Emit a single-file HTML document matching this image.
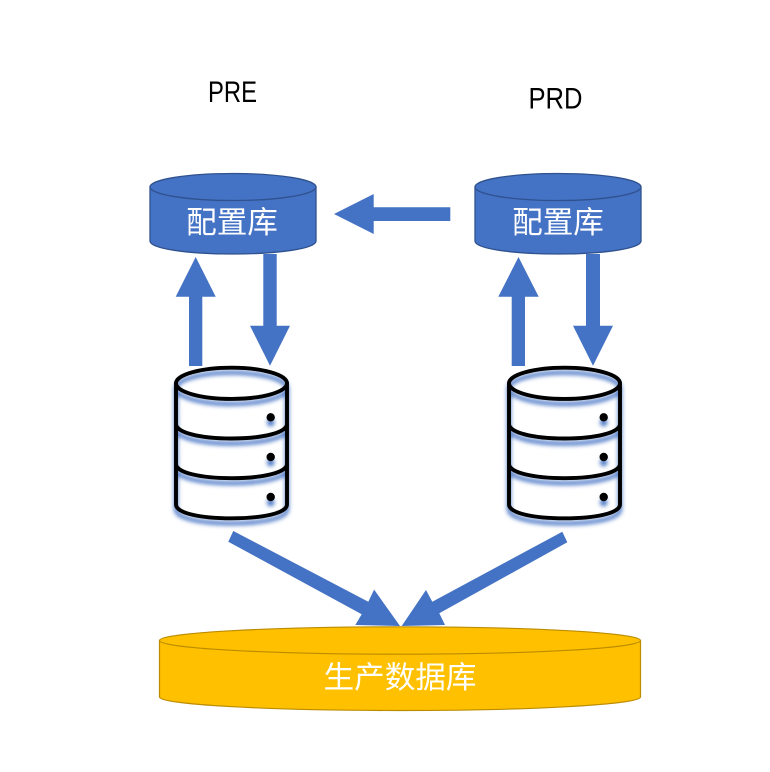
<!DOCTYPE html>
<html lang="zh">
<head>
<meta charset="utf-8">
<title>PRE / PRD</title>
<style>
html,body{margin:0;padding:0;background:#fff}
body{width:770px;height:772px;overflow:hidden}
svg{display:block;filter:blur(.35px)}
.lat{font-family:"Liberation Sans","Noto Sans CJK SC",sans-serif;font-size:30px;fill:#000}
.cjk{font-family:"Liberation Sans","Noto Sans CJK SC",sans-serif;font-size:30.6px;fill:#fff}
</style>
</head>
<body>
<svg width="770" height="772" viewBox="0 0 770 772" xmlns="http://www.w3.org/2000/svg">
<defs>
  <filter id="glow" x="-20%" y="-20%" width="140%" height="140%">
    <feGaussianBlur stdDeviation="2.2"/>
  </filter>
  <g id="icon-lines" fill="none" stroke-width="3.9" stroke-linecap="round">
    <ellipse cx="231.5" cy="383.3" rx="55.5" ry="15.6"/>
    <path d="M176 383.3V504.5C176 513 200 518.3 231.5 518.3S287 513 287 504.5V383.3"/>
    <path d="M176 424C176 432.5 200 438.5 231.5 438.5S287 432.5 287 424"/>
    <path d="M176 464C176 472.5 200 478.2 231.5 478.2S287 472.5 287 464"/>
  </g>
  <g id="icon">
    <g stroke="#4472C4" fill="#4472C4" filter="url(#glow)" transform="translate(0 5)">
      <use href="#icon-lines"/>
      <circle cx="270.7" cy="417.5" r="3.8" stroke="none"/>
      <circle cx="270.7" cy="457.5" r="3.8" stroke="none"/>
      <circle cx="270.7" cy="497.5" r="3.8" stroke="none"/>
    </g>
    <g stroke="#000" fill="#000">
      <use href="#icon-lines"/>
      <circle cx="270.7" cy="417.3" r="4.2" stroke="none"/>
      <circle cx="270.7" cy="457" r="4.2" stroke="none"/>
      <circle cx="270.7" cy="497" r="4.2" stroke="none"/>
    </g>
  </g>
  <g id="cyl">
    <path d="M150 187V241C150 248.5 187 254 233 254S316 248.5 316 241V187Z" fill="#4472C4" stroke="#2F528F" stroke-width="1.3"/>
    <ellipse cx="233" cy="187" rx="83" ry="13.5" fill="#4472C4" stroke="#2F528F" stroke-width="1.3"/>
  </g>
</defs>

<text class="lat" x="208" y="101.8" textLength="49" lengthAdjust="spacingAndGlyphs">PRE</text>
<text class="lat" x="528.5" y="108.4" textLength="54" lengthAdjust="spacingAndGlyphs">PRD</text>

<use href="#cyl"/>
<use href="#cyl" transform="translate(325 0)"/>
<text class="cjk" x="232" y="232.8" text-anchor="middle">配置库</text>
<text class="cjk" x="558" y="232.8" text-anchor="middle">配置库</text>

<g fill="#4472C4">
  <polygon points="334,214 373.7,194 373.7,207.3 450.3,207.3 450.3,221 373.7,221 373.7,234"/>
  <polygon points="195.7,257 215.7,296.7 202.3,296.7 202.3,366 189,366 189,296.7 175.7,296.7"/>
  <polygon points="263.3,254 276.7,254 276.7,325.7 290,325.7 270,365.7 250,325.7 263.3,325.7"/>
  <polygon points="518.5,257 538.7,296.7 525,296.7 525,366 511.7,366 511.7,296.7 498.3,296.7"/>
  <polygon points="586,254 600,254 600,325.7 613,325.7 593,365.7 573,325.7 586,325.7"/>
  <polygon points="233.3,531 368.3,601.7 374.1,589.6 400,626 355.3,625 361.7,614.3 228.3,541.7"/>
  <polygon points="562.3,531.7 432.3,601.7 426,590 401.7,626 445,625 439.3,613.3 567.3,542.3"/>
</g>

<use href="#icon"/>
<use href="#icon" transform="translate(333 0)"/>

<path d="M159.5 640.5V697C159.5 704.5 267 710.5 400 710.5S640.5 704.5 640.5 697V640.5Z" fill="#FFC000" stroke="#BC8C00" stroke-width="1.2"/>
<ellipse cx="400" cy="640.5" rx="240.5" ry="13.7" fill="#FFC000" stroke="#BC8C00" stroke-width="1.2"/>
<text class="cjk" x="400" y="688" text-anchor="middle">生产数据库</text>
</svg>
</body>
</html>
